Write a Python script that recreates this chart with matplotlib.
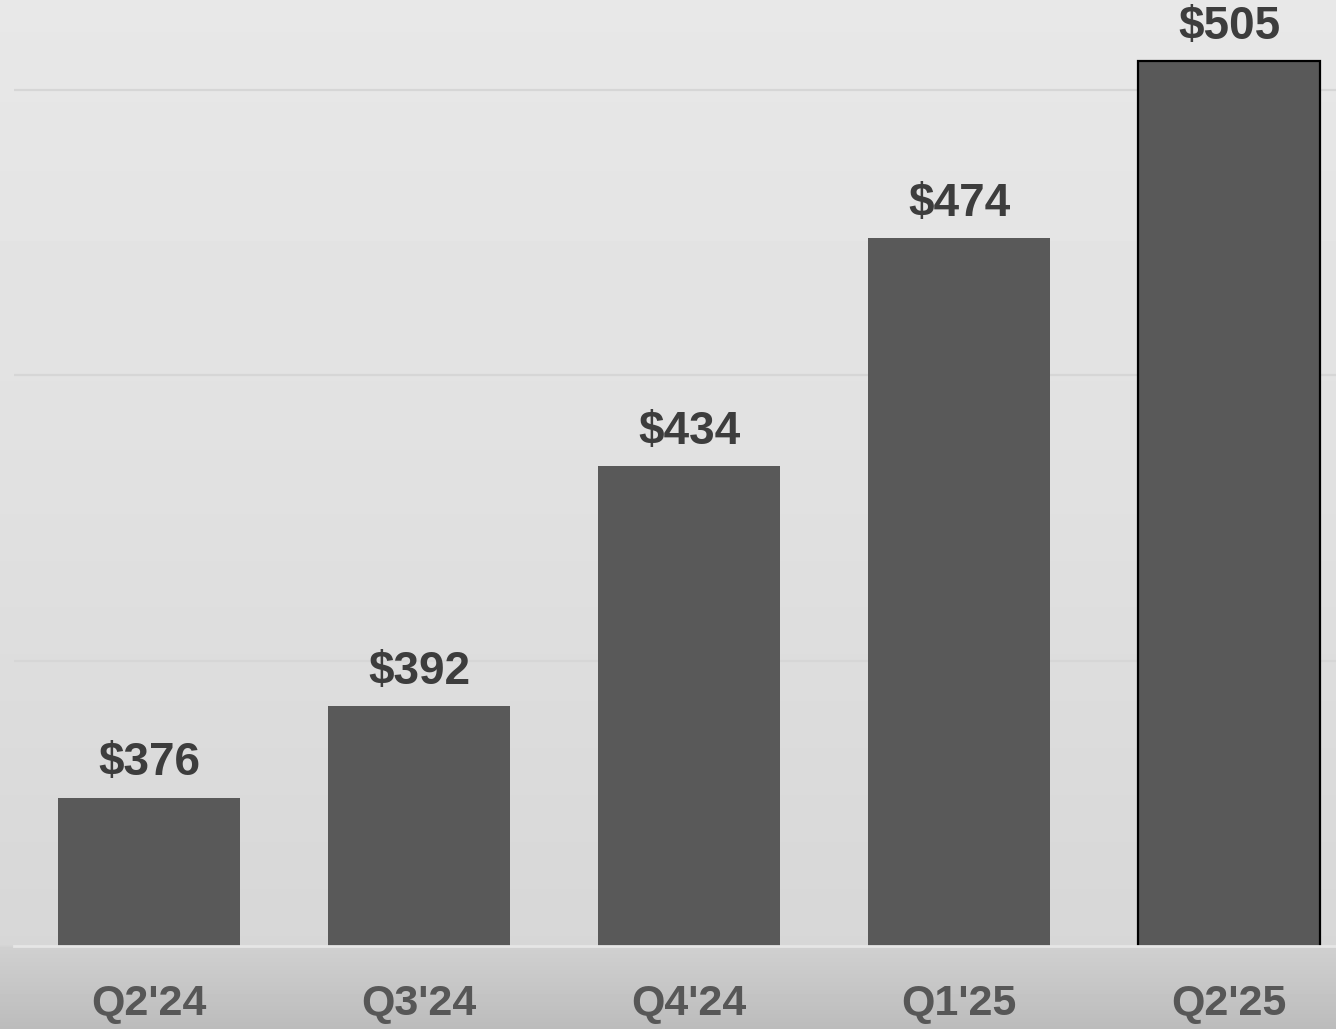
import matplotlib.pyplot as plt
import numpy as np

quarters = ["Q2'24", "Q3'24", "Q4'24", "Q1'25", "Q2'25"]
values = [376, 392, 434, 474, 505]
labels = ["$376", "$392", "$434", "$474", "$505"]

plt.rcParams['font.family'] = ['Liberation Sans', 'DejaVu Sans']

W, H = 1336, 1029
fig = plt.figure(figsize=(W / 100, H / 100), dpi=100)

# soft grey backdrop, darker band under the baseline
bg = fig.add_axes([0, 0, 1, 1], zorder=0)
rows = np.arange(H)
shade = np.interp(rows, [0, 500, 944, 947, 1029], [0.908, 0.88, 0.843, 0.815, 0.735])
bg.imshow(np.repeat(shade[:, None], 2, axis=1), cmap='gray', vmin=0, vmax=1,
          aspect='auto', extent=[0, 1, 0, 1], origin='upper', interpolation='nearest')
bg.axis('off')

base_px = 946
ax = fig.add_axes([14 / W, (H - base_px) / H, (W - 14) / W, base_px / H], zorder=1)
ax.patch.set_alpha(0)

x = np.arange(len(quarters))
bars = ax.bar(x, values, width=0.674, bottom=0, color='#595959', zorder=3)
bars[-1].set_edgecolor('black')
bars[-1].set_linewidth(1.6)

ax.set_xlim(-0.5, 4.396)
ax.set_ylim(350, 515.7)

for y in [400, 450, 500]:
    ax.axhline(y, color='#d6d6d6', lw=1.6, zorder=1)
ax.axhline(350, color='#e6e6e6', lw=2, zorder=4, clip_on=False)

for xi, v, s in zip(x, values, labels):
    ax.annotate(s, (xi, v), xytext=(0, 16), textcoords='offset points',
                ha='center', va='baseline', fontsize=33, fontweight='bold',
                color='#3d3d3d', annotation_clip=False)

ax.set_xticks(x)
ax.set_xticklabels(quarters, fontsize=31, fontweight='bold', color='#575757')
ax.tick_params(axis='x', length=0, pad=27)
ax.set_yticks([])
for sp in ax.spines.values():
    sp.set_visible(False)

fig.savefig('out.png', dpi=100)
